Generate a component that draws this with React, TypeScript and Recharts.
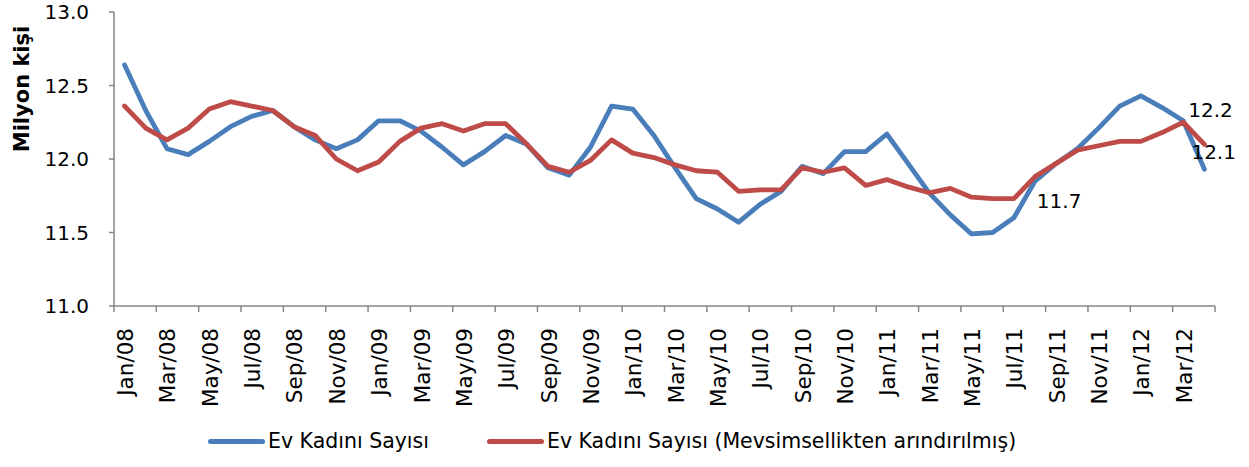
import { LineChart, Line, XAxis, YAxis, Legend, LabelList } from 'recharts';

const months = [
  'Jan/08', 'Feb/08', 'Mar/08', 'Apr/08', 'May/08', 'Jun/08', 'Jul/08', 'Aug/08', 'Sep/08', 'Oct/08', 'Nov/08', 'Dec/08',
  'Jan/09', 'Feb/09', 'Mar/09', 'Apr/09', 'May/09', 'Jun/09', 'Jul/09', 'Aug/09', 'Sep/09', 'Oct/09', 'Nov/09', 'Dec/09',
  'Jan/10', 'Feb/10', 'Mar/10', 'Apr/10', 'May/10', 'Jun/10', 'Jul/10', 'Aug/10', 'Sep/10', 'Oct/10', 'Nov/10', 'Dec/10',
  'Jan/11', 'Feb/11', 'Mar/11', 'Apr/11', 'May/11', 'Jun/11', 'Jul/11', 'Aug/11', 'Sep/11', 'Oct/11', 'Nov/11', 'Dec/11',
  'Jan/12', 'Feb/12', 'Mar/12', 'Apr/12',
];

// Ev Kadını Sayısı (milyon kişi)
const evKadini = [
  12.64, 12.33, 12.07, 12.03, 12.12, 12.22, 12.29, 12.33, 12.22, 12.13, 12.07, 12.13,
  12.26, 12.26, 12.19, 12.08, 11.96, 12.05, 12.16, 12.1, 11.94, 11.89, 12.08, 12.36,
  12.34, 12.16, 11.94, 11.73, 11.66, 11.57, 11.69, 11.78, 11.95, 11.9, 12.05, 12.05,
  12.17, 11.97, 11.77, 11.62, 11.49, 11.5, 11.6, 11.85, 11.97, 12.07, 12.21, 12.36,
  12.43, 12.35, 12.26, 11.93,
];

// Mevsimsellikten arındırılmış
const evKadiniMA = [
  12.36, 12.21, 12.13, 12.21, 12.34, 12.39, 12.36, 12.33, 12.22, 12.16, 12.0, 11.92,
  11.98, 12.12, 12.21, 12.24, 12.19, 12.24, 12.24, 12.1, 11.95, 11.91, 11.99, 12.13,
  12.04, 12.01, 11.96, 11.92, 11.91, 11.78, 11.79, 11.79, 11.94, 11.91, 11.94, 11.82,
  11.86, 11.81, 11.77, 11.8, 11.74, 11.73, 11.73, 11.88, 11.97, 12.06, 12.09, 12.12,
  12.12, 12.18, 12.25, 12.1,
];

const yTicks = [11.0, 11.5, 12.0, 12.5, 13.0];

const maLabels = [
  { month: 'Jul/11', text: '11.7' },
  { month: 'Mar/12', text: '12.2' },
  { month: 'Apr/12', text: '12.1' },
];

const data = months.map((m, i) => ({ month: m, raw: evKadini[i], sa: evKadiniMA[i] }));

const BLUE = '#4a7ebb';
const RED = '#be4b48';
const AXIS = '#868686';
const FONT = '"DejaVu Sans", sans-serif';

const W = 1249;
const H = 467;
const MARGIN = { top: 12, right: 34, left: 0, bottom: 6 };
const Y_AXIS_W = 114;
const HALF_BAND = (W - MARGIN.left - MARGIN.right - Y_AXIS_W) / months.length / 2;

// where each annotation sits relative to its point
const LABEL_OFFSETS: Record<string, [number, number]> = {
  'Jul/11': [23, 2],
  'Mar/12': [5, -12],
  'Apr/12': [-13, 8],
};

const MonthTick = (props: any) => {
  const { x, y, payload } = props;
  const lastShown = payload.value === months[months.length - 2];
  return (
    <g>
      <line x1={x - HALF_BAND} x2={x - HALF_BAND} y1={y} y2={y + 6} stroke={AXIS} strokeWidth={1.5} />
      {lastShown && (
        <line x1={x + 3 * HALF_BAND} x2={x + 3 * HALF_BAND} y1={y} y2={y + 6} stroke={AXIS} strokeWidth={1.5} />
      )}
      <text
        x={x + 1}
        y={y + 22}
        transform={`rotate(-90, ${x + 1}, ${y + 22})`}
        textAnchor="end"
        dominantBaseline="central"
        fontFamily={FONT}
        fontSize={21.5}
        fill="#000"
      >
        {payload.value}
      </text>
    </g>
  );
};

const renderMaLabel = (props: any) => {
  const { x, y, index } = props;
  const item = maLabels.find((l) => l.month === months[index]);
  if (!item) return null;
  const [dx, dy] = LABEL_OFFSETS[item.month];
  return (
    <text
      key={`lbl-${index}`}
      x={x + dx}
      y={y + dy}
      dominantBaseline="central"
      fontFamily={FONT}
      fontSize={20}
      fill="#000"
    >
      {item.text}
    </text>
  );
};

const LegendSwatch = ({ color, text, gap }: { color: string; text: string; gap: number }) => (
  <div style={{ display: 'flex', alignItems: 'center', marginLeft: gap }}>
    <div style={{ width: 57, height: 5, borderRadius: 3, background: color, marginRight: 3 }} />
    <span>{text}</span>
  </div>
);

const LegendRow = () => (
  <div
    style={{
      display: 'flex',
      justifyContent: 'flex-start',
      alignItems: 'center',
      paddingLeft: 208,
      height: 40,
      fontFamily: FONT,
      fontSize: 20.5,
      color: '#000',
    }}
  >
    <LegendSwatch color={BLUE} text="Ev Kadını Sayısı" gap={0} />
    <LegendSwatch color={RED} text="Ev Kadını Sayısı (Mevsimsellikten arındırılmış)" gap={58} />
  </div>
);

export default function App() {
  return (
    <div style={{ position: 'absolute', left: 0, top: 0, width: W, height: H, background: '#fff' }}>
      <LineChart width={W} height={H} data={data} margin={MARGIN}>
        <XAxis
          dataKey="month"
          scale="band"
          interval={1}
          height={115}
          tickLine={false}
          tickSize={0}
          tickMargin={0}
          axisLine={{ stroke: AXIS, strokeWidth: 1.5 }}
          tick={<MonthTick />}
        />
        <YAxis
          width={Y_AXIS_W}
          domain={[11, 13]}
          ticks={yTicks}
          tickFormatter={(v: number) => v.toFixed(1)}
          axisLine={{ stroke: AXIS, strokeWidth: 1.5 }}
          tickLine={{ stroke: AXIS, strokeWidth: 1.5 }}
          tickSize={5}
          tickMargin={20}
          tick={{ fontFamily: FONT, fontSize: 20, fill: '#000' }}
          label={{
            content: (p: any) => {
              const vb = p.viewBox || { x: 0, y: MARGIN.top };
              const cx = vb.x + 22;
              const cy = vb.y + 77;
              return (
                <text
                  x={cx}
                  y={cy}
                  transform={`rotate(-90, ${cx}, ${cy})`}
                  textAnchor="middle"
                  dominantBaseline="central"
                  fontFamily={FONT}
                  fontWeight="bold"
                  fontSize={21}
                  fill="#000"
                >
                  Milyon kişi
                </text>
              );
            },
          }}
        />
        <Legend verticalAlign="bottom" wrapperStyle={{ width: W, left: 0 }} content={<LegendRow />} />
        <Line
          type="linear"
          dataKey="raw"
          name="Ev Kadını Sayısı"
          stroke={BLUE}
          strokeWidth={4.8}
          strokeLinejoin="round"
          strokeLinecap="round"
          dot={false}
          activeDot={false}
          isAnimationActive={false}
        />
        <Line
          type="linear"
          dataKey="sa"
          name="Ev Kadını Sayısı (Mevsimsellikten arındırılmış)"
          stroke={RED}
          strokeWidth={4.8}
          strokeLinejoin="round"
          strokeLinecap="round"
          dot={false}
          activeDot={false}
          isAnimationActive={false}
        >
          <LabelList dataKey="sa" content={renderMaLabel} />
        </Line>
      </LineChart>
    </div>
  );
}
